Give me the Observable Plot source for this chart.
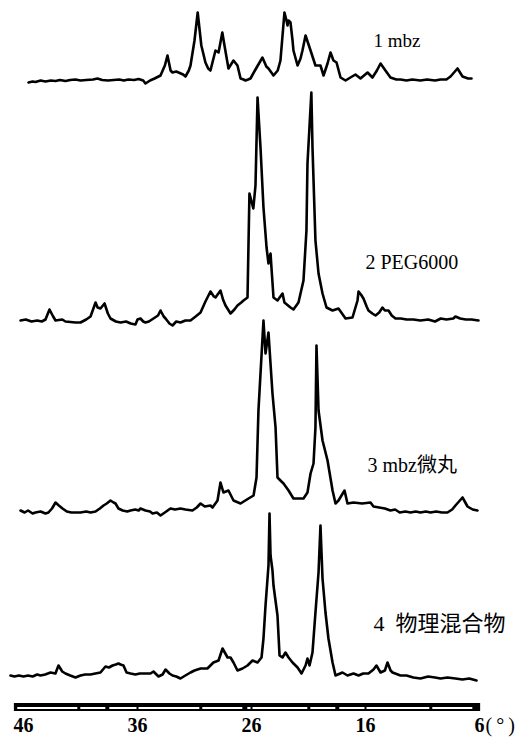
<!DOCTYPE html>
<html>
<head>
<meta charset="utf-8">
<script src="https://cdn.jsdelivr.net/npm/d3@7"></script>
<script src="https://cdn.jsdelivr.net/npm/@observablehq/plot@0.6"></script>
<style>
  html, body { margin: 0; padding: 0; background: #fff; }
  #chart svg { display: block; }
</style>
</head>
<body>
<div id="chart"></div>
<script>
// 2θ (degrees) and relative intensity (arbitrary units)
const mbz = [[45.56,-2],[45.2,-1],[44.95,-1.5],[44.5,0],[44.07,-1],[43.6,0],[43.19,-0.5],[42.8,0.5],[42.32,-0.5],[41.9,0.5],[41.44,1],[41.0,0],[40.5,0.5],[39.9,1],[39.51,2],[39.1,0.5],[38.6,0],[38.1,0.5],[37.6,1],[37.2,0],[36.8,1],[36.3,0.5],[35.9,1.5],[35.5,0],[35.3,-3],[34.9,0],[34.5,2],[33.98,5],[33.6,15],[33.37,25],[33.1,10],[32.93,8],[32.6,9],[32.4,8],[32.0,6],[31.79,4],[31.5,10],[31.35,15],[31.0,40],[30.72,68],[30.4,35],[30.04,18],[29.8,12],[29.6,10],[29.16,30],[28.89,28],[28.56,48],[28.37,35],[28.02,12],[27.58,20],[27.23,15],[26.96,2],[26.7,1],[26.53,0],[26.3,1],[26.09,2],[25.6,12],[25.04,23],[24.7,14],[24.51,12],[24.07,5],[23.7,10],[23.46,20],[23.11,68],[22.93,60],[22.84,55],[22.75,60],[22.58,58],[22.4,40],[22.32,30],[21.96,15],[21.7,22],[21.53,30],[21.26,45],[20.82,30],[20.39,15],[19.95,15],[19.68,5],[19.33,17],[19.07,28],[18.81,20],[18.54,18],[18.19,3],[17.75,0],[17.32,3],[16.88,6],[16.44,2],[15.82,8],[15.39,3],[15.0,10],[14.68,17],[14.25,10],[13.81,3],[13.3,1],[12.93,1],[12.4,0],[11.9,1],[11.18,0],[10.6,1],[9.9,0],[9.42,1],[8.9,1],[8.54,4],[7.93,12],[7.49,4],[7.0,2],[6.7,2]];

const peg6000 = [[46.26,1],[45.8,2],[45.3,0],[44.8,1],[44.4,0],[44.07,2],[43.72,12],[43.4,5],[43.19,1],[42.6,2],[42.32,0],[41.44,-1],[41.0,-1],[40.5,2],[40.12,5],[39.68,19],[39.5,14],[39.25,13],[38.89,18],[38.6,8],[38.37,3],[37.9,0],[37.49,-1],[37.0,0],[36.6,-2],[36.18,-3],[36.0,2],[35.74,3],[35.5,0],[35.3,-1],[35.0,0],[34.6,3],[34.2,6],[33.98,11],[33.7,5],[33.54,3],[33.2,-2],[32.93,-4],[32.6,0],[32.23,-1],[31.8,1],[31.35,1],[30.9,5],[30.47,9],[30.04,20],[29.6,30],[29.3,25],[29.16,24],[28.72,31],[28.5,22],[28.28,16],[27.84,8],[27.5,12],[27.23,16],[26.9,19],[26.7,21],[26.35,24],[26.18,128],[25.84,113],[25.65,136],[25.47,224],[25.21,174],[24.95,114],[24.68,74],[24.51,58],[24.33,68],[24.25,54],[24.07,24],[23.72,21],[23.28,28],[23.11,19],[22.58,14],[22.32,12],[21.88,19],[21.44,41],[21.18,91],[21.09,158],[20.75,229],[20.65,174],[20.39,81],[20.12,48],[19.77,28],[19.42,14],[18.89,11],[18.37,13],[17.75,3],[17.14,4],[16.7,21],[16.61,30],[16.4,27],[16.18,23],[15.9,15],[15.74,11],[15.4,8],[15.12,6],[14.8,9],[14.51,14],[14.3,11],[13.98,11],[13.7,6],[13.37,3],[12.9,3],[12.4,2],[11.8,2],[11.18,1],[10.5,2],[9.9,0],[9.4,3],[8.9,2],[8.3,3],[8.11,5],[7.7,3],[7.2,2],[6.7,2],[6.09,1]];

const mbzPellet = [[46.26,1],[45.9,-1],[45.6,1],[45.2,-2],[44.95,-1],[44.5,0],[44.07,-2],[43.81,-1],[43.5,3],[43.19,9],[42.9,6],[42.58,3],[42.2,0],[41.8,-1],[41.44,-1],[41.0,-1],[40.5,0],[40.12,-1],[39.68,0],[39.3,3],[38.98,6],[38.7,8],[38.37,11],[38.1,9],[37.93,8],[37.67,3],[37.3,1],[36.9,0],[36.61,1],[36.2,2],[35.9,1],[35.74,3],[35.3,1],[34.9,0],[34.68,-2],[34.3,-1],[33.98,-4],[33.6,-1],[33.11,3],[32.7,2],[32.23,3],[31.8,2],[31.18,1],[30.8,4],[30.47,8],[30.1,5],[29.6,6],[29.42,4],[28.98,11],[28.72,29],[28.46,19],[28.02,21],[27.58,11],[26.96,8],[26.26,13],[25.82,16],[25.56,34],[25.39,101],[24.95,191],[24.77,158],[24.51,179],[24.16,118],[23.89,84],[23.72,34],[23.46,31],[23.19,28],[22.75,21],[22.32,13],[21.44,13],[21.09,19],[20.82,38],[20.56,48],[20.39,84],[20.3,166],[20.12,101],[19.77,71],[19.33,51],[18.89,21],[18.63,8],[18.37,11],[17.84,21],[17.58,8],[17.05,9],[16.3,8],[15.56,9],[15.3,5],[14.8,4],[14.3,3],[13.81,1],[13.4,2],[13.0,-1],[12.5,0],[12.05,-1],[11.6,0],[11.18,-1],[10.7,0],[10.3,-1],[9.8,0],[9.3,-1],[8.81,-1],[8.4,2],[8.11,6],[7.49,14],[7.05,5],[6.6,2],[6.18,1]];

const physMix = [[47.14,1],[46.8,0],[46.4,1],[46.0,0],[45.6,1],[45.2,0],[44.8,2],[44.51,1],[44.1,2],[43.63,4],[43.2,3],[42.93,11],[42.6,5],[42.32,3],[41.9,1],[41.44,-1],[41.0,1],[40.6,2],[40.12,2],[39.7,3],[39.25,4],[38.81,10],[38.5,9],[38.19,11],[37.9,12],[37.67,13],[37.49,12],[37.23,11],[36.96,4],[36.6,3],[36.18,2],[35.8,3],[35.3,3],[34.86,3],[34.6,5],[34.16,0],[33.8,2],[33.54,7],[33.2,3],[32.93,1],[32.6,0],[32.23,-2],[31.8,1],[31.35,4],[31.0,6],[30.47,8],[29.87,8],[29.34,14],[28.89,16],[28.54,28],[28.1,19],[27.84,19],[27.58,14],[27.23,6],[26.79,8],[26.35,11],[25.91,16],[25.47,14],[25.12,19],[24.95,38],[24.77,71],[24.51,111],[24.42,163],[24.33,121],[24.16,106],[24.07,91],[23.72,61],[23.54,21],[23.28,19],[23.02,24],[22.75,19],[22.4,14],[21.96,9],[21.61,3],[21.26,11],[21.09,18],[20.91,11],[20.65,24],[20.39,64],[20.12,104],[19.95,151],[19.77,98],[19.51,64],[19.25,38],[18.89,14],[18.63,1],[18.02,4],[17.58,1],[17.05,3],[16.61,1],[16.2,3],[15.74,3],[15.3,7],[15.04,11],[14.68,4],[14.3,6],[14.07,14],[13.8,6],[13.63,4],[12.93,1],[12.4,1],[11.8,-1],[11.18,-2],[10.5,0],[9.9,-1],[9.42,-2],[8.81,-1],[8.11,-2],[7.5,-3],[6.9,-2],[6.26,-4]];

const seriesData = [mbz, peg6000, mbzPellet, physMix];
const seriesNames = ["1 mbz", "2 PEG6000", "3 mbz微丸", "4  物理混合物"];
const stackOffsets = [660, 419, 229, 64];        // vertical offset of each trace (intensity units)
const labelRise = [40, 59, 46, 53];               // label height above its trace baseline
const labelTheta = [15.3, 16.0, 15.82, 15.3];     // label start (2θ)
const labelSizes = [19, 20, 20, 22];

const tickValues = [46, 36, 26, 16, 6];
const tickLabels = ["46", "36", "26", "16", "6"];
const unitLabel = "(\u2009°\u2009)";

const rows = seriesData.flatMap((s, i) =>
  s.map(([t, v]) => ({series: seriesNames[i], t, y: stackOffsets[i] + v})));
const labels = seriesNames.map((n, i) => ({text: n, t: labelTheta[i], y: stackOffsets[i] + labelRise[i], size: labelSizes[i]}));

const serif = "'Liberation Serif', 'DejaVu Serif', 'Noto Sans CJK SC', serif";

const chart = Plot.plot({
  width: 519,
  height: 740,
  margin: 0,
  x: {domain: [46, 6], range: [23, 479], axis: null},
  y: {domain: [0, 740], range: [740, 0], axis: null},
  marks: [
    Plot.line(rows, {x: "t", y: "y", z: "series", stroke: "#000", strokeWidth: 2.6, strokeLinejoin: "round", curve: "linear"}),
    // axis bar
    Plot.rect([{x1: 46.8, x2: 5.9, y1: 29, y2: 37}], {x1: "x1", x2: "x2", y1: "y1", y2: "y2", fill: "#000"}),
    Plot.ruleY([32.5], {x1: 46.5, x2: 6.2, stroke: "#fff", strokeWidth: 2, strokeDasharray: "60,3,25,4,90,3,40,5"}),
    Plot.ruleX([36, 26, 16], {y1: 29, y2: 37, stroke: "#000", strokeWidth: 2}),
    Plot.text(tickValues, {x: d => d, y: 15, text: (d, i) => tickLabels[i], fontSize: 20, fontWeight: "bold", fontFamily: serif, fill: "#000", textAnchor: "middle"}),
    Plot.text([6], {x: d => d, y: 15, dx: 6, text: () => unitLabel, fontSize: 20, fontFamily: serif, fill: "#000", textAnchor: "start"}),
    ...labels.map(l => Plot.text([l], {x: "t", y: "y", text: "text", fontSize: l.size, fontFamily: serif, fill: "#000", textAnchor: "start"}))
  ]
});
document.getElementById("chart").appendChild(chart);
</script>
</body>
</html>
